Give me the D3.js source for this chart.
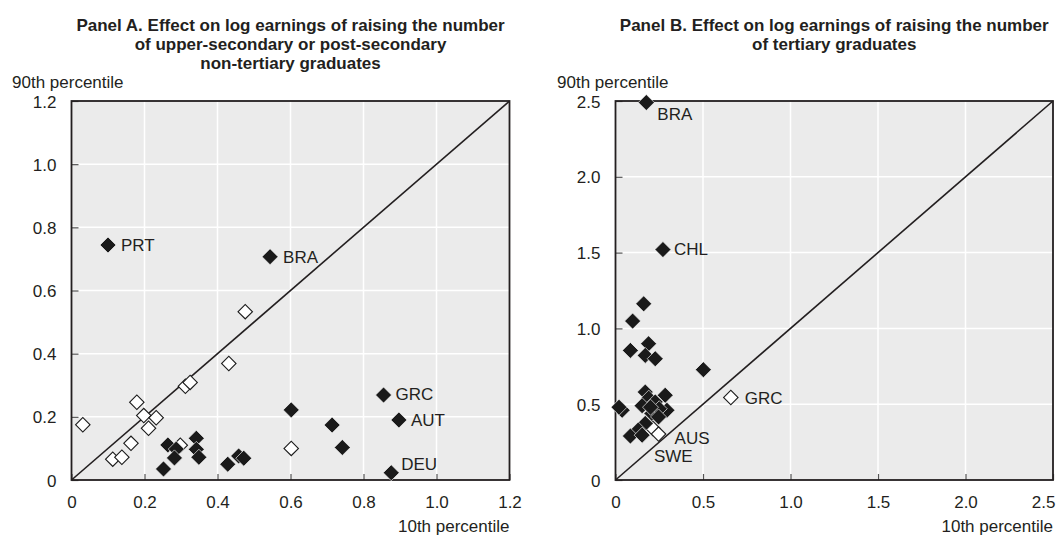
<!DOCTYPE html>
<html><head><meta charset="utf-8">
<script src="https://cdn.jsdelivr.net/npm/d3@7"></script>
<style>
html,body{margin:0;padding:0;background:#fff;}
svg text{font-family:"Liberation Sans Narrow","Arial Narrow","Liberation Sans",sans-serif;fill:#231f20;}
</style></head>
<body>
<svg id="chart" width="1056" height="536"></svg>
<script>
// ---------- DATA ----------
const titleA = ["Panel A. Effect on log earnings of raising the number","of upper-secondary or post-secondary","non-tertiary graduates"];
const titleB = ["Panel B. Effect on log earnings of raising the number","of tertiary graduates"];
const yAxisTitle = "90th percentile";
const xAxisTitle = "10th percentile";

const ticksA = [0,0.2,0.4,0.6,0.8,1.0,1.2];
const tickLabelsA = ["0","0.2","0.4","0.6","0.8","1.0","1.2"];
const ticksB = [0,0.5,1.0,1.5,2.0,2.5];
const tickLabelsB = ["0","0.5","1.0","1.5","2.0","2.5"];

// Panel A: effect at 10th percentile (x), 90th percentile (y), significance (1 = filled), country code
const a_p10 = [0.100,0.544,0.855,0.897,0.876,0.602,0.714,0.742,0.458,0.472,0.428,0.342,0.342,0.349,0.264,0.287,0.282,0.252,
               0.031,0.113,0.138,0.163,0.179,0.198,0.211,0.232,0.298,0.312,0.325,0.431,0.476,0.602];
const a_p90 = [0.744,0.707,0.269,0.190,0.023,0.222,0.174,0.103,0.076,0.069,0.050,0.132,0.097,0.072,0.111,0.098,0.070,0.035,
               0.175,0.066,0.072,0.116,0.246,0.204,0.164,0.197,0.110,0.297,0.309,0.369,0.533,0.100];
const a_sig = [1,1,1,1,1,1,1,1,1,1,1,1,1,1,1,1,1,1,
               0,0,0,0,0,0,0,0,0,0,0,0,0,0];
const a_code = ["PRT","BRA","GRC","AUT","DEU","","","","","","","","","","","","","",
                "","","","","","","","","","","","","",""];

// Panel B
const b_p10 = [0.176,0.271,0.161,0.098,0.085,0.189,0.170,0.227,0.502,0.038,0.020,0.170,0.190,0.284,0.152,0.227,0.294,0.208,0.250,0.170,0.130,0.085,0.152,0.246,0.200,
               0.659,0.214,0.246];
const b_p90 = [2.490,1.520,1.162,1.048,0.855,0.899,0.822,0.800,0.728,0.460,0.480,0.580,0.540,0.559,0.490,0.515,0.460,0.439,0.470,0.373,0.330,0.290,0.296,0.416,0.480,
               0.544,0.340,0.303];
const b_sig = [1,1,1,1,1,1,1,1,1,1,1,1,1,1,1,1,1,1,1,1,1,1,1,1,1,
               0,0,0];
const b_code = ["BRA","CHL","","","","","","","","","","","","","","","","","","","","","","","",
                "GRC","SWE","AUS"];

// ---------- DRAWING ----------
const svg = d3.select("#chart");
const labelOffset = {
  A:{PRT:[13,0],BRA:[13,0],GRC:[12,-1],AUT:[12,0],DEU:[10,-9]},
  B:{BRA:[11,11],CHL:[11,-1],GRC:[14,0],SWE:[1,27],AUS:[16,4]}
};

function panel(cfg){
  const g = svg.append("g");
  const x = d3.scaleLinear().domain(cfg.domain).range([cfg.left,cfg.right]);
  const y = d3.scaleLinear().domain(cfg.domain).range([cfg.bottom,cfg.top]);
  g.append("rect").attr("x",cfg.left).attr("y",cfg.top)
    .attr("width",cfg.right-cfg.left).attr("height",cfg.bottom-cfg.top).attr("fill","#ebebeb");
  const inner = cfg.ticks.slice(1,-1);
  g.selectAll(".gx").data(inner).join("line").attr("x1",d=>x(d)).attr("x2",d=>x(d))
    .attr("y1",cfg.top).attr("y2",cfg.bottom).attr("stroke","#fff").attr("stroke-width",1.5);
  g.selectAll(".gy").data(inner).join("line").attr("y1",d=>y(d)).attr("y2",d=>y(d))
    .attr("x1",cfg.left).attr("x2",cfg.right).attr("stroke","#fff").attr("stroke-width",1.5);
  const xAxis = d3.axisBottom(x).tickValues(cfg.ticks).tickFormat((d,i)=>cfg.labels[i]).tickSizeInner(-6).tickSizeOuter(0).tickPadding(16);
  const yAxis = d3.axisLeft(y).tickValues(cfg.ticks).tickFormat((d,i)=>cfg.labels[i]).tickSizeInner(-7).tickSizeOuter(0).tickPadding(15);
  const gx = g.append("g").attr("transform",`translate(0,${cfg.bottom})`).call(xAxis);
  const gy = g.append("g").attr("transform",`translate(${cfg.left},0)`).call(yAxis);
  [gx,gy].forEach(a=>{
    a.select(".domain").remove();
    a.selectAll(".tick line").attr("stroke","#555").attr("stroke-width",1.2);
    a.selectAll(".tick text").attr("font-size",17).attr("fill","#231f20");
  });
  gy.selectAll(".tick text").attr("dy","0.36em");
  if (cfg.lastTickEnd) {
    gx.selectAll(".tick text").filter((d,i,n)=>i===n.length-1).attr("text-anchor","end").attr("dx",2);
  }
  g.append("line").attr("x1",x(cfg.domain[0])).attr("y1",y(cfg.domain[0]))
    .attr("x2",x(cfg.domain[1])).attr("y2",y(cfg.domain[1])).attr("stroke","#231f20").attr("stroke-width",1.6);
  g.append("rect").attr("x",cfg.left).attr("y",cfg.top)
    .attr("width",cfg.right-cfg.left).attr("height",cfg.bottom-cfg.top)
    .attr("fill","none").attr("stroke","#231f20").attr("stroke-width",1.8);
  const pts = cfg.px.map((v,i)=>({x:v,y:cfg.py[i],s:cfg.sig[i],c:cfg.code[i]}));
  const order = pts.filter(d=>!d.s).concat(pts.filter(d=>d.s));
  const filledSym = d3.symbol(d3.symbolSquare,128)();
  const hollowSym = d3.symbol(d3.symbolSquare,104)();
  g.selectAll(".pt").data(order).join("path")
    .attr("d",d=>d.s?filledSym:hollowSym)
    .attr("transform",d=>`translate(${x(d.x)},${y(d.y)}) rotate(45)`)
    .attr("fill",d=>d.s?"#1a1a1a":"#fff")
    .attr("stroke",d=>d.s?"#fff":"#1a1a1a")
    .attr("stroke-width",d=>d.s?0.6:1.1);
  g.selectAll(".lbl").data(pts.filter(d=>d.c)).join("text")
    .attr("x",d=>x(d.x)+cfg.off[d.c][0]).attr("y",d=>y(d.y)+cfg.off[d.c][1])
    .attr("dy","0.36em").attr("font-size",17).text(d=>d.c);
  g.selectAll(".ttl").data(cfg.title).join("text")
    .attr("x",(cfg.left+cfg.right)/2).attr("y",(d,i)=>cfg.titleY+i*19)
    .attr("text-anchor","middle").attr("font-weight","bold").attr("font-size",17).text(d=>d);
  g.append("text").attr("x",cfg.yTitleX).attr("y",88).attr("font-size",17).text(yAxisTitle);
  g.append("text").attr("x",cfg.right).attr("y",532).attr("text-anchor","end").attr("font-size",17).text(xAxisTitle);
}

panel({domain:[0,1.2],ticks:ticksA,labels:tickLabelsA,left:71.5,right:509.5,top:101,bottom:480,
  px:a_p10,py:a_p90,sig:a_sig,code:a_code,off:labelOffset.A,title:titleA,titleY:31,yTitleX:12});
panel({domain:[0,2.5],ticks:ticksB,labels:tickLabelsB,left:615.5,right:1053,top:101,bottom:480,
  px:b_p10,py:b_p90,sig:b_sig,code:b_code,off:labelOffset.B,title:titleB,titleY:31,yTitleX:557,lastTickEnd:true});
</script>
</body></html>
